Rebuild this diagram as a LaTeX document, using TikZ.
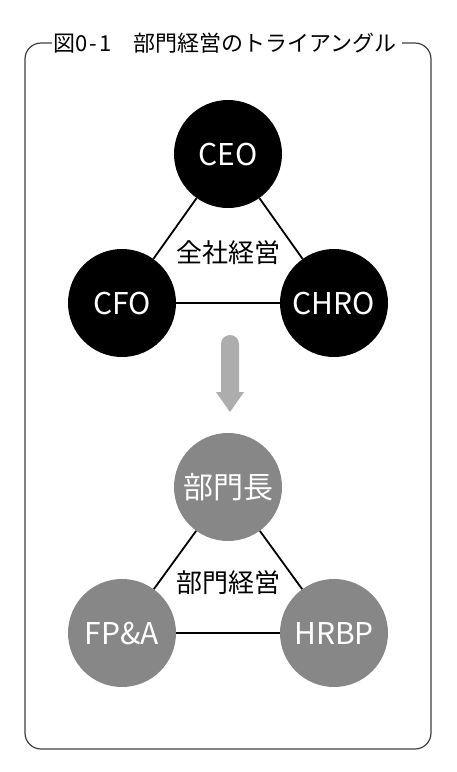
\documentclass[tikz,border=0pt]{standalone}
\usepackage{fontspec}
\setmainfont{Noto Sans CJK JP}
\newfontfamily\jp{Noto Sans CJK JP}
\begin{document}
\begin{tikzpicture}[x=1pt,y=-1pt,
  bigcirc/.style={circle,minimum size=108pt,inner sep=0pt,text=white,font=\jp\fontsize{30}{32}\selectfont},
  topc/.style={bigcirc,fill=black},
  botc/.style={bigcirc,fill=black!47},
  link/.style={line width=1.8pt,black},
  lbl/.style={font=\jp\fontsize{26}{28}\selectfont}
]
\useasboundingbox (0,0) rectangle (456,772);
\fill[white] (0,0) rectangle (456,772);
% frame
\coordinate (tl) at (52,43);
\coordinate (tr) at (402,43);
\draw[line width=1.2pt,black!75,rounded corners=16pt] (tl) -- (25,43) -- (25,749) -- (431,749) -- (431,43) -- (tr);
\node[font=\jp\fontsize{22}{24}\selectfont,inner sep=0pt] (title) at (225,43) {図0\hspace{2pt}-\hspace{2pt}1　部門経営のトライアングル};
% top triangle
\node[topc] (ceo) at (228,154) {CEO};
\node[topc] (cfo) at (122,303) {CFO};
\node[topc] (chro) at (334,303) {CHRO};
\draw[link] (ceo) -- (cfo);
\draw[link] (ceo) -- (chro);
\draw[link] (cfo) -- (chro);
\node[lbl] (zen) at (228,253) {全社経営};
% arrow
\fill[black!32] (221,392) -- (221,344) arc[start angle=180,end angle=360,radius=9] -- (239,392) -- (244,392) -- (230,412) -- (216,392) -- cycle;
% bottom triangle
\node[botc] (bucho) at (228,487) {部門長};
\node[botc] (fpa) at (122,633) {FP\&A};
\node[botc] (hrbp) at (334,633) {HRBP};
\draw[link] (bucho) -- (fpa);
\draw[link] (bucho) -- (hrbp);
\draw[link] (fpa) -- (hrbp);
\node[lbl] (bumon) at (228,583) {部門経営};
\end{tikzpicture}
\end{document}
